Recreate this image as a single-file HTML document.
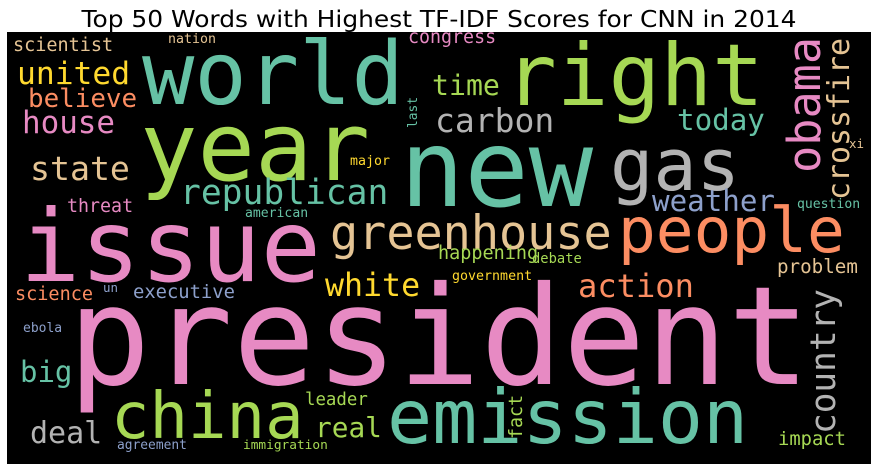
<!DOCTYPE html>
<html><head><meta charset="utf-8">
<style>
html,body{margin:0;padding:0;background:#fff;}
svg{display:block;}
.w{font-family:"DejaVu Sans Mono","Liberation Mono",monospace;}
</style></head>
<body>
<svg id="cloud" width="878" height="471" viewBox="0 0 878 471" xmlns="http://www.w3.org/2000/svg">
<text x="439" y="27" text-anchor="middle" font-family="DejaVu Sans, Liberation Sans, sans-serif" font-size="23" textLength="715" lengthAdjust="spacingAndGlyphs" fill="#000">Top 50 Words with Highest TF-IDF Scores for CNN in 2014</text>
<rect x="7" y="32" width="864" height="432" fill="#000"/>
<g id="words"></g>
</svg>
<script>
const words = ["president","issue","year","world","new","right","gas","people","greenhouse","emission","china","obama","crossfire","country","carbon","time","today","weather","republican","action","white","happening","debate","government","problem","question","xi","impact","fact","congress","nation","scientist","united","believe","house","state","threat","american","major","last","science","un","executive","ebola","big","deal","leader","real","agreement","immigration"];
const weights = [137.0,100.0,95.5,87.0,107.0,86.0,72.0,62.8,46.8,75.0,64.0,45.2,29.9,34.4,33.0,28.2,29.2,29.2,34.6,32.1,31.6,18.5,13.8,13.3,19.2,13.1,12.5,18.8,18.3,18.3,13.3,18.5,31.3,25.9,30.9,33.2,18.3,13.1,13.3,12.9,18.5,12.5,18.8,13.0,29.0,30.0,17.4,27.8,12.9,12.8];
const colors = ["#e78ac3","#e78ac3","#a6d854","#66c2a5","#66c2a5","#a6d854","#b3b3b3","#fc8d62","#e5c494","#66c2a5","#a6d854","#e78ac3","#e5c494","#b3b3b3","#b3b3b3","#a6d854","#66c2a5","#8da0cb","#66c2a5","#fc8d62","#ffd92f","#a6d854","#a6d854","#ffd92f","#e5c494","#66c2a5","#e5c494","#a6d854","#a6d854","#e78ac3","#e5c494","#e5c494","#ffd92f","#fc8d62","#e78ac3","#e5c494","#e78ac3","#66c2a5","#ffd92f","#66c2a5","#fc8d62","#8da0cb","#8da0cb","#8da0cb","#66c2a5","#b3b3b3","#a6d854","#a6d854","#8da0cb","#a6d854"];
const rotated = [0,0,0,0,0,0,0,0,0,0,0,1,1,1,0,0,0,0,0,0,0,0,0,0,0,0,0,0,1,0,0,0,0,0,0,0,0,0,0,1,0,0,0,0,0,0,0,0,0,0];
// layout anchors (left/baseline; for rotated words: baseline x / bottom y)
const layoutX = [68,20,140,142,400,505,610,618,330,387,111,820,849,835,435,432,677,652,180,578,325,438,532,452,777,797,849,778,522,408,168,13,17,28,22,30,67,245,350,417,15,103,133,23,20,30,305,315,117,243];
const layoutY = [384,281,180,104,206,105,190,252,249,443,438,173,200,434,132,95,130,211,204,297,296,259,263,280,273,208,148,445,439,43,43,51,84,107,133,180,212,217,165,128,300,292,298,332,382,443,405,437,449,449];
const g = document.getElementById('words');
const NS = 'http://www.w3.org/2000/svg';
for (let i = 0; i < words.length; i++) {
  const t = document.createElementNS(NS, 'text');
  
  
  t.setAttribute('class', 'w');
  t.setAttribute('font-size', weights[i].toFixed(1));
  t.setAttribute('textLength', (weights[i] * 0.602 * words[i].length).toFixed(1));
  t.setAttribute('lengthAdjust', 'spacingAndGlyphs');
  t.setAttribute('fill', colors[i]);
  if (rotated[i]) {
    t.setAttribute('transform', 'translate(' + layoutX[i] + ',' + layoutY[i] + ') rotate(-90)');
  } else {
    t.setAttribute('x', layoutX[i]);
    t.setAttribute('y', layoutY[i]);
  }
  t.textContent = words[i];
  g.appendChild(t);
}
</script>
</body></html>
